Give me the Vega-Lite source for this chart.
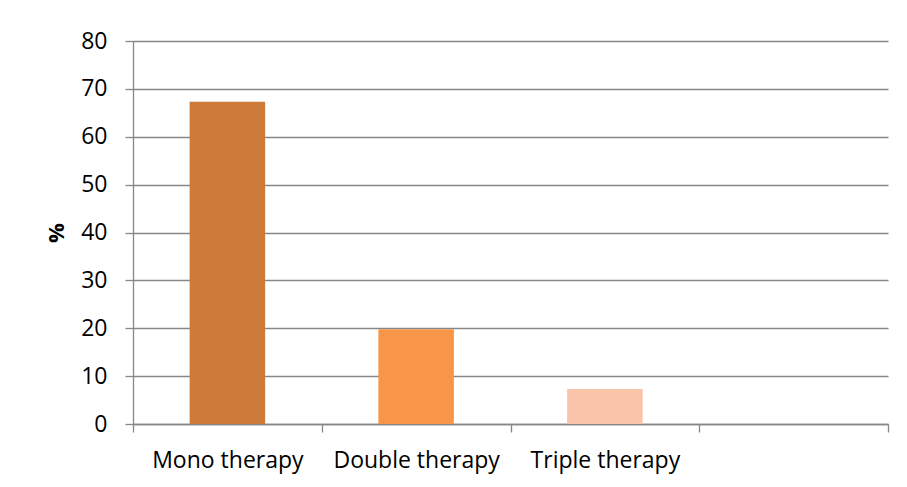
{
  "$schema": "https://vega.github.io/schema/vega-lite/v6.json",
  "autosize": {"type": "none"},
  "width": 755,
  "height": 383,
  "padding": {"left": 133, "top": 41, "right": 19, "bottom": 63},
  "background": "white",
  "data": {"values": [
    {"therapy": "Mono therapy", "pct": 67.3},
    {"therapy": "Double therapy", "pct": 19.8},
    {"therapy": "Triple therapy", "pct": 7.3}
  ]},
  "mark": {"type": "bar", "width": {"band": 0.4}},
  "encoding": {
    "x": {
      "field": "therapy", "type": "nominal",
      "scale": {"domain": ["Mono therapy", "Double therapy", "Triple therapy", " "], "paddingInner": 0, "paddingOuter": 0},
      "axis": {"title": null, "labelAngle": 0, "tickBand": "extent", "tickSize": 8, "labelPadding": 17, "labelFontSize": 23, "labelFont": "Open Sans", "labelColor": "#000000", "domainColor": "#878787", "tickColor": "#878787", "domainWidth": 1.3, "tickWidth": 1.3, "grid": false}
    },
    "y": {
      "field": "pct", "type": "quantitative",
      "scale": {"domain": [0, 80]},
      "axis": {"title": "%", "titleFont": "Open Sans", "titleFontSize": 22, "titleFontWeight": "bold", "titleColor": "#000000", "titlePadding": 12, "values": [0, 10, 20, 30, 40, 50, 60, 70, 80], "tickSize": 8, "labelPadding": 18, "labelFontSize": 23, "labelFont": "Open Sans", "labelColor": "#000000", "domainColor": "#878787", "tickColor": "#878787", "gridColor": "#878787", "domainWidth": 1.3, "tickWidth": 1.3, "gridWidth": 1.3, "grid": true}
    },
    "color": {
      "field": "therapy", "type": "nominal", "legend": null,
      "scale": {"domain": ["Mono therapy", "Double therapy", "Triple therapy"], "range": ["#CD7B3A", "#F79646", "#F9C4A9"]}
    }
  },
  "config": {"view": {"stroke": null}}
}
